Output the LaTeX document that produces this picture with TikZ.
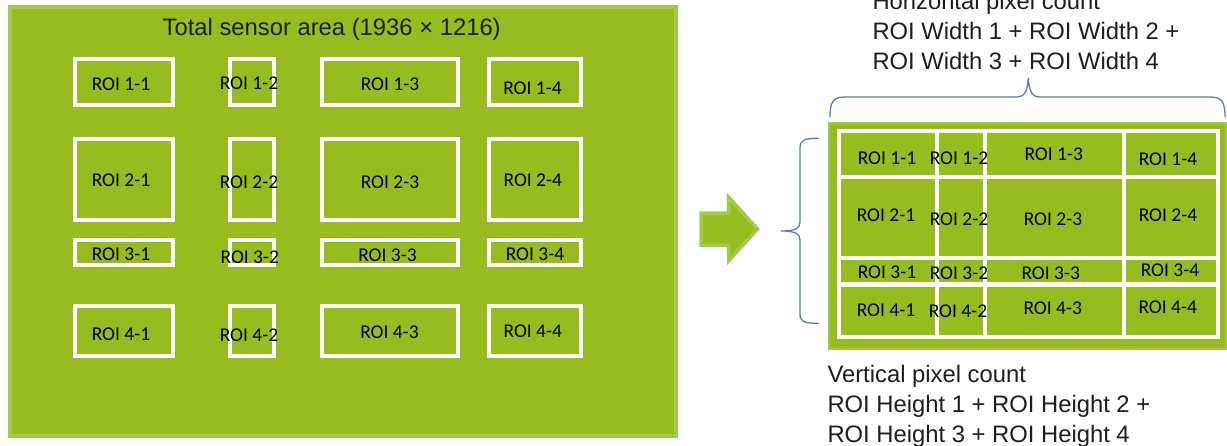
\documentclass[tikz,border=0pt]{standalone}
\usepackage{fontspec}
\newfontfamily\helvfont{Liberation Sans}
\newfontfamily\califont{Carlito}
\definecolor{leaf}{HTML}{96BC1F}
\definecolor{leafedge}{HTML}{A3C94C}
\definecolor{bracecol}{HTML}{4F81BD}
\definecolor{txt}{HTML}{1E1E1E}
\begin{document}
\begin{tikzpicture}[x=1pt,y=-1pt,
  roibox/.style={draw=white, line width=4pt},
  roilabel/.style={font=\califont\fontsize{19.5}{20}\selectfont, text=black, anchor=base, inner sep=0pt},
  caption/.style={font=\helvfont\fontsize{23.8}{30}\selectfont, text=txt, inner sep=0pt},
  cell/.style={fill=leaf},
  bracestyle/.style={draw=bracecol, line width=1.3pt, line cap=round}]
\useasboundingbox (0,0) rectangle (1227,445);
\fill[white] (0,0) rectangle (1227,445);

% ---------- left: total sensor area ----------
\draw[fill=leaf, draw=leafedge, line width=4pt] (10.3,7) rectangle (676.3,436.3);
\node[caption, anchor=base] (title) at (331.7,35.7) {Total sensor area (1936 \char"D7{} 1216)};

% ROI rectangles (col x-ranges, row y-ranges)
\foreach \xa/\xb in {75.3/173, 230.3/274, 321.8/458, 488.7/581.3}{
  \foreach \ya/\yb in {59.3/104.7, 139.3/219.7, 239.7/265.3, 306.3/356.3}{
    \draw[roibox] (\xa,\ya) rectangle (\xb,\yb);
  }
}
\node[roilabel] (a11) at (121,90.5) {ROI 1-1};
\node[roilabel] (a12) at (249,89.3) {ROI 1-2};
\node[roilabel] (a13) at (390,90.5) {ROI 1-3};
\node[roilabel] (a14) at (532.5,94.8) {ROI 1-4};
\node[roilabel] (a21) at (121,186.5) {ROI 2-1};
\node[roilabel] (a22) at (249,188.8) {ROI 2-2};
\node[roilabel] (a23) at (390,188.8) {ROI 2-3};
\node[roilabel] (a24) at (532.8,186.5) {ROI 2-4};
\node[roilabel] (a31) at (121,260.5) {ROI 3-1};
\node[roilabel] (a32) at (249.8,263.5) {ROI 3-2};
\node[roilabel] (a33) at (387.5,261) {ROI 3-3};
\node[roilabel] (a34) at (535,260.3) {ROI 3-4};
\node[roilabel] (a41) at (121,340.3) {ROI 4-1};
\node[roilabel] (a42) at (249,341.5) {ROI 4-2};
\node[roilabel] (a43) at (389.5,338.5) {ROI 4-3};
\node[roilabel] (a44) at (532.8,337) {ROI 4-4};

% ---------- arrow ----------
\draw[fill=leaf, draw=leafedge, line width=3.5pt, line join=miter]
  (701,213) -- (728.5,213) -- (728.5,197) -- (757.5,229) -- (728.5,261) -- (728.5,245) -- (701,245) -- cycle;

% ---------- right: packed ROI image ----------
\draw[fill=leaf, draw=leafedge, line width=2pt] (829,123) rectangle (1226,348.5);
\fill[white] (836.7,129) rectangle (1220,339);
\foreach \xa/\xb in {840.7/935, 939.3/982.7, 986.7/1121.7, 1125.7/1216}{
  \foreach \ya/\yb in {133.3/175, 179.3/255.7, 260/282.3, 286.7/335}{
    \fill[cell] (\xa,\ya) rectangle (\xb,\yb);
  }
}
\node[roilabel] (b11) at (887,164) {ROI 1-1};
\node[roilabel] (b12) at (959,164) {ROI 1-2};
\node[roilabel] (b13) at (1053.7,160.7) {ROI 1-3};
\node[roilabel] (b14) at (1168,165.7) {ROI 1-4};
\node[roilabel] (b21) at (886,221.7) {ROI 2-1};
\node[roilabel] (b22) at (959,225) {ROI 2-2};
\node[roilabel] (b23) at (1053,225) {ROI 2-3};
\node[roilabel] (b24) at (1168,221.7) {ROI 2-4};
\node[roilabel] (b31) at (887,278.3) {ROI 3-1};
\node[roilabel] (b32) at (959,279.3) {ROI 3-2};
\node[roilabel] (b33) at (1050.7,279) {ROI 3-3};
\node[roilabel] (b34) at (1170,276.7) {ROI 3-4};
\node[roilabel] (b41) at (886,316) {ROI 4-1};
\node[roilabel] (b42) at (958,317.3) {ROI 4-2};
\node[roilabel] (b43) at (1052.7,314.3) {ROI 4-3};
\node[roilabel] (b44) at (1167.7,313.3) {ROI 4-4};

% ---------- braces ----------
\draw[bracestyle] (830,117) .. controls (830,102) and (833,97) .. (845,97)
  -- (1017,97) .. controls (1024,97) and (1027.5,92) .. (1028.3,78)
  .. controls (1029.2,92) and (1032.5,97) .. (1040,97)
  -- (1210,97) .. controls (1222,97) and (1225,102) .. (1225,117);
\draw[bracestyle] (818.3,138.3) .. controls (804,138.3) and (800,140) .. (800,148)
  -- (800,222) .. controls (800,228) and (796,231) .. (781,231)
  .. controls (796,231) and (800,234) .. (800,240)
  -- (800,314) .. controls (800,321.5) and (804,323.3) .. (818.3,323.3);

% ---------- captions ----------
\node[caption, anchor=base west] (h1) at (872.3,9.5) {Horizontal pixel count};
\node[caption, anchor=base west] (h2) at (872.3,39.3) {ROI Width 1 + ROI Width 2 +};
\node[caption, anchor=base west] (h3) at (872.3,69) {ROI Width 3 + ROI Width 4};
\node[caption, anchor=base west] (v1) at (827.3,382.3) {Vertical pixel count};
\node[caption, anchor=base west] (v2) at (827.3,412.3) {ROI Height 1 + ROI Height 2 +};
\node[caption, anchor=base west] (v3) at (827.3,442) {ROI Height 3 + ROI Height 4};
\end{tikzpicture}
\end{document}
